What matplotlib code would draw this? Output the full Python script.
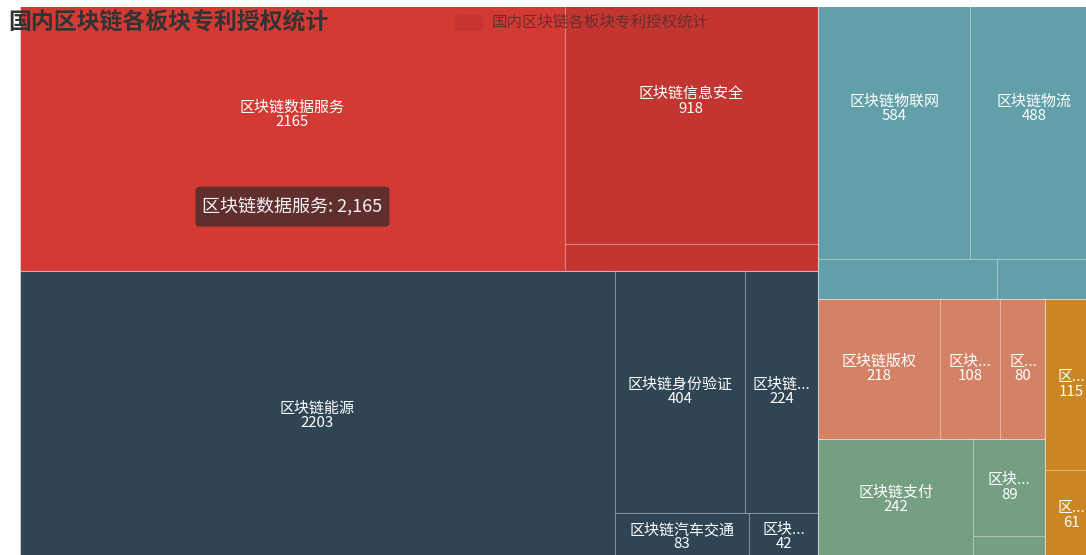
import matplotlib as mlp
mlp.use("Agg")
import matplotlib.pyplot as plt
from matplotlib.patches import Rectangle, FancyBboxPatch

plt.rcParams['font.family'] = ['Noto Sans CJK SC', 'DejaVu Sans']

title = '国内区块链各板块专利授权统计'

# one list per colour group, names as they show on the tiles ('' = tile too small for a label)
red_names = ['区块链数据服务', '区块链信息安全', '']
red_values = [2165, 918, 87]
dark_names = ['区块链能源', '区块链身份验证', '区块链...', '区块链汽车交通', '区块...']
dark_values = [2203, 404, 224, 83, 42]
teal_names = ['区块链物联网', '区块链物流', '', '']
teal_values = [584, 488, 92, 52]
salmon_names = ['区块链版权', '区块...', '区...']
salmon_values = [218, 108, 80]
green_names = ['区块链支付', '区块...', '']
green_values = [242, 89, 23]
orange_names = ['区...', '区...']
orange_values = [115, 61]

group_names = [red_names, dark_names, teal_names, salmon_names, green_names, orange_names]
group_values = [red_values, dark_values, teal_values, salmon_values, green_values, orange_values]
group_colors = ['#c23531', '#2f4554', '#61a0a8', '#d48265', '#749f83', '#ca8622']
hover_name = '区块链数据服务'
hover_color = '#d43a34'

GOLDEN = 0.5 * (1 + 5 ** 0.5)


def worst(areas, fixed):
	s = sum(areas)
	f = fixed * fixed * GOLDEN
	return max(f * max(areas) / (s * s), s * s / (f * min(areas)))


def place(row, fixed, rect, out, flush):
	# row lies along the side whose length is 'fixed'
	along_x = fixed == rect[2]
	area = sum(a for _, a in row)
	other = area / fixed if fixed else 0
	thick = rect[3] if along_x else rect[2]
	if flush or other > thick:
		other = thick
	start = rect[0] if along_x else rect[1]
	length = rect[2] if along_x else rect[3]
	last = start
	for i, (idx, a) in enumerate(row):
		step = a / other if other else 0
		remain = start + length - last
		mod = remain if (i == len(row) - 1 or remain < step) else step
		if along_x:
			out[idx] = (last, rect[1], mod, other)
		else:
			out[idx] = (rect[0], last, other, mod)
		last += mod
	if along_x:
		rect[1] += other
		rect[3] -= other
	else:
		rect[0] += other
		rect[2] -= other


def squarify(values, x, y, w, h):
	scale = w * h / float(sum(values))
	order = sorted(range(len(values)), key=lambda i: -values[i])
	out = [None] * len(values)
	rect = [x, y, w, h]
	fixed = min(w, h)
	row = []
	best = float('inf')
	k = 0
	while k < len(order):
		cand = row + [(order[k], values[order[k]] * scale)]
		score = worst([a for _, a in cand], fixed)
		if score <= best:
			row = cand
			best = score
			k += 1
		else:
			place(row, fixed, rect, out, False)
			fixed = min(rect[2], rect[3])
			row = []
			best = float('inf')
	if row:
		place(row, fixed, rect, out, True)
	return out


W, H = 1086, 555
fig = plt.figure(figsize=(W / 100, H / 100), dpi=100)
ax = fig.add_axes([0, 0, 1, 1])
ax.set_xlim(0, W)
ax.set_ylim(H, 0)
ax.axis('off')

# the chart is cut off by the screenshot: it runs past the top and the right edge
tm_x, tm_y, tm_w, tm_h = 20, -41, 1078, 602
group_rects = squarify([sum(v) for v in group_values], tm_x, tm_y, tm_w, tm_h)

hover_rect = None
for names, vals, col, (gx, gy, gw, gh) in zip(group_names, group_values, group_colors, group_rects):
	leaf_rects = squarify(vals, gx, gy, gw, gh)
	for name, v, (x, y, w, h) in zip(names, vals, leaf_rects):
		fc = hover_color if name == hover_name else col
		ax.add_patch(Rectangle((x, y), w, h, facecolor=fc, edgecolor=(1, 1, 1, 0.16), linewidth=0.8))
		if name == hover_name:
			hover_rect = (x, y, w, h)
		if name and h >= 44:
			ax.text(x + w / 2, y + h / 2, name + '\n' + str(v), color='white', fontsize=10.8,
				ha='center', va='center', linespacing=1.05)
	# lighter line round each group
	ax.add_patch(Rectangle((gx, gy), gw, gh, facecolor='none', edgecolor=(1, 1, 1, 0.3), linewidth=0.8))

# white band over the cut top edge
ax.add_patch(Rectangle((0, 0), W, 7, facecolor='white', edgecolor='none', zorder=3))

# tooltip of the hovered tile
x, y, w, h = hover_rect
tx, ty = x + w / 2, y + h * 0.795
ax.add_patch(FancyBboxPatch((tx - 97, ty - 20), 194, 40, boxstyle='round,pad=0,rounding_size=4',
	facecolor='#602e2c', edgecolor='none', zorder=5))
ax.text(tx, ty, '区块链数据服务: 2,165', color='#f2f2f2', fontsize=13,
	ha='center', va='center', zorder=6)

ax.text(8, 23, title, fontsize=16.5, fontweight='bold', color='#333333', ha='left', va='center', zorder=6)

# legend
ax.add_patch(FancyBboxPatch((455, 15), 28, 16, boxstyle='round,pad=0,rounding_size=4',
	facecolor='#c83431', edgecolor='none', zorder=6))
ax.text(492, 22, title, fontsize=11.2, color='#6a2e2c', ha='left', va='center', zorder=6)

plt.savefig('out.png', dpi=100)
